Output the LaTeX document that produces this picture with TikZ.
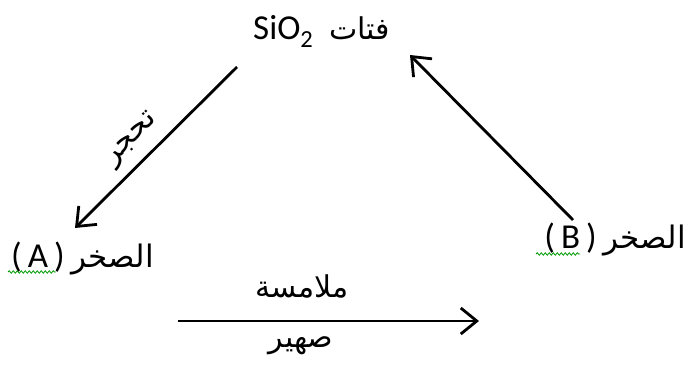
\documentclass[tikz,border=0pt]{standalone}
\usepackage{fontspec}
\setmainfont{Carlito}
\newfontfamily\arabicfont[Script=Arabic]{DejaVu Sans}
\TeXXeTstate=1
\usetikzlibrary{arrows.meta,decorations.pathmorphing}
\newcommand{\rocklabel}[1]{(\hspace{6pt}#1\hspace{6pt})\hspace{7pt}{\fontsize{31}{36}\selectfont\arabicfont\beginR الصخر\endR}}
\begin{document}
\begin{tikzpicture}[x=1pt,y=-1pt,
  lbl/.style={inner sep=0pt,font=\fontsize{35}{40}\selectfont},
  ar/.style={font=\fontsize{30}{34}\selectfont\arabicfont},
  arw/.style={line width=2.8pt,-{Straight Barb[length=16pt,width=26pt,line width=2.8pt]}},
  squig/.style={draw=green!60!black,line width=0.8pt,decorate,decoration={snake,amplitude=1.2pt,segment length=4pt}}]
\useasboundingbox (0,0) rectangle (689,369);
\node[lbl,anchor=base west] (top) at (253,40) {SiO\textsubscript{2}\ \ {\fontsize{30}{34}\selectfont\arabicfont\beginR فتات\endR}};
\node[lbl,anchor=base west] (A) at (11,267) {\rocklabel{A}};
\node[lbl,anchor=base east] (B) at (686,248) {\rocklabel{B}};
\node[lbl,ar,rotate=45] (t) at (132,140) {\beginR تحجر\endR};
\node[lbl,ar] (m) at (302,286) {\beginR ملامسة\endR};
\node[lbl,ar] (s) at (301,346) {\beginR صهير\endR};
\coordinate (a1s) at (237,67);
\coordinate (a1e) at (75,228);
\coordinate (a2s) at (573,220);
\coordinate (a2e) at (410,55);
\coordinate (a3s) at (178,321);
\coordinate (a3e) at (479,321);
\draw[arw] (a1s) -- (a1e);
\draw[arw] (a2s) -- (a2e);
\draw[arw] (a3s) -- (a3e);
\coordinate (qa1) at (8,272);
\coordinate (qa2) at (56,272);
\coordinate (qb1) at (536,254);
\coordinate (qb2) at (580,254);
\draw[squig] (qa1) -- (qa2);
\draw[squig] (qb1) -- (qb2);
\end{tikzpicture}
\end{document}
